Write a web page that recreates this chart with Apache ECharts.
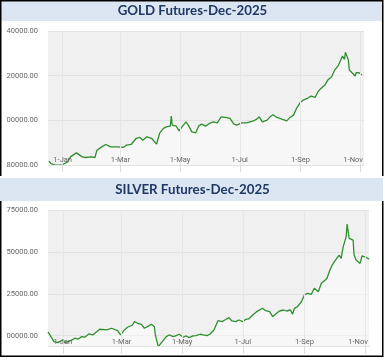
<!DOCTYPE html>
<html><head><meta charset="utf-8">
<script src="https://cdn.jsdelivr.net/npm/echarts@6/dist/echarts.min.js"></script>
<style>html,body{margin:0;padding:0;background:#fff;} #c{width:385px;height:362px;}</style>
</head><body><div id="c"></div>
<script>
const titles = ['GOLD Futures-Dec-2025', 'SILVER Futures-Dec-2025'];
const monthTicks = ['2025-01-01','2025-03-01','2025-05-01','2025-07-01','2025-09-01','2025-11-01'];
const monthNames = ['Jan','Feb','Mar','Apr','May','Jun','Jul','Aug','Sep','Oct','Nov','Dec'];
const goldYTicks = [80000, 100000, 120000, 140000];
const silverYTicks = [100000, 125000, 150000, 175000];

const goldDates = ['2024-12-18','2024-12-20','2024-12-24','2024-12-31','2025-01-03','2025-01-06','2025-01-09','2025-01-15','2025-01-17','2025-01-21','2025-01-24','2025-01-30','2025-02-03','2025-02-04','2025-02-05','2025-02-10','2025-02-12','2025-02-14','2025-02-19','2025-02-21','2025-02-26','2025-02-28','2025-03-04','2025-03-07','2025-03-12','2025-03-17','2025-03-21','2025-03-24','2025-03-28','2025-04-02','2025-04-07','2025-04-10','2025-04-14','2025-04-17','2025-04-21','2025-04-22','2025-04-23','2025-04-27','2025-04-30','2025-05-03','2025-05-07','2025-05-10','2025-05-13','2025-05-17','2025-05-20','2025-05-23','2025-05-27','2025-05-31','2025-06-04','2025-06-08','2025-06-12','2025-06-16','2025-06-21','2025-06-25','2025-06-28','2025-07-03','2025-07-08','2025-07-15','2025-07-18','2025-07-21','2025-07-24','2025-07-29','2025-08-01','2025-08-04','2025-08-08','2025-08-13','2025-08-18','2025-08-21','2025-08-25','2025-08-28','2025-09-01','2025-09-04','2025-09-09','2025-09-12','2025-09-16','2025-09-19','2025-09-22','2025-09-23','2025-09-26','2025-09-29','2025-10-03','2025-10-06','2025-10-08','2025-10-10','2025-10-14','2025-10-16','2025-10-17','2025-10-20','2025-10-21','2025-10-23','2025-10-27','2025-10-28','2025-10-31','2025-11-03'];
const goldValues = [81700,80670,79950,79950,80670,81390,83630,85430,85160,83630,83360,83630,83360,83630,86640,88120,88880,89190,88120,87400,88120,87400,87850,88880,89190,91880,92330,91120,92600,91880,89330,94120,96370,97080,97400,101880,97850,97400,95290,97080,99330,97400,94840,94390,97400,98300,97400,98610,99330,98880,101570,101300,100850,98300,97850,98880,98880,99770,100400,101570,99330,100090,101570,102470,101300,100540,99770,101120,102330,105330,108020,109060,110090,110850,110270,112780,114300,113540,115780,118020,119500,122510,121750,124750,128790,127310,130450,126990,122510,123270,119820,121300,121300,120270];

const silverDates = ['2024-12-17','2024-12-23','2024-12-27','2025-01-01','2025-01-03','2025-01-09','2025-01-13','2025-01-16','2025-01-20','2025-01-23','2025-01-27','2025-01-31','2025-02-04','2025-02-07','2025-02-14','2025-02-19','2025-02-21','2025-02-25','2025-02-28','2025-03-04','2025-03-07','2025-03-12','2025-03-14','2025-03-17','2025-03-21','2025-03-24','2025-03-27','2025-03-31','2025-04-03','2025-04-04','2025-04-07','2025-04-09','2025-04-11','2025-04-15','2025-04-18','2025-04-22','2025-04-25','2025-04-28','2025-05-02','2025-05-05','2025-05-08','2025-05-12','2025-05-15','2025-05-19','2025-05-22','2025-05-26','2025-05-29','2025-06-02','2025-06-04','2025-06-06','2025-06-10','2025-06-13','2025-06-17','2025-06-20','2025-06-24','2025-06-27','2025-07-01','2025-07-04','2025-07-07','2025-07-09','2025-07-11','2025-07-15','2025-07-21','2025-07-24','2025-07-28','2025-07-31','2025-08-04','2025-08-07','2025-08-11','2025-08-14','2025-08-18','2025-08-20','2025-08-22','2025-08-25','2025-08-29','2025-09-01','2025-09-04','2025-09-08','2025-09-11','2025-09-15','2025-09-18','2025-09-22','2025-09-24','2025-09-26','2025-09-29','2025-10-01','2025-10-03','2025-10-06','2025-10-08','2025-10-10','2025-10-13','2025-10-14','2025-10-16','2025-10-17','2025-10-20','2025-10-21','2025-10-23','2025-10-24','2025-10-27','2025-10-29','2025-10-31','2025-11-03','2025-11-05'];
const silverValues = [102200,96430,95830,97440,95830,97020,98450,97860,99400,99050,101010,100420,102380,103810,103400,104410,105360,102980,100420,103400,105000,106370,108340,107390,106790,104410,105360,106790,105360,100420,93450,94460,96430,99400,100420,99400,100000,100830,99050,99820,98810,99820,100000,100830,100420,100000,100830,103400,104410,108940,108340,109350,110720,108760,108340,109350,108340,109770,109950,109350,112330,114300,116320,114890,114300,111320,113340,114710,115310,114710,115310,112750,116320,117280,120250,124250,125260,124660,128240,126210,131210,133180,134550,138120,142120,144080,145090,148070,146110,153020,158970,166540,158020,157010,157010,148070,145090,146110,143130,147660,147060,146470,145690];

const toTs = s => new Date(s + 'T00:00:00').getTime();
const xTickTs = monthTicks.map(toTs);
const labelColor = '#666';
const fontFam = 'Roboto, "Liberation Sans", sans-serif';

function xLabel(v) {
  const d = new Date(v);
  const t = d.getDate() + '-' + monthNames[d.getMonth()];
  return d.getMonth() === 10 ? '{r|' + t + '}' : t;
}
function yLabel(v) {
  const r = v % 100000;
  return String(r).padStart(5, '0') + '.00';
}

function xAxisCfg(gi) {
  return {
    type: 'value', gridIndex: gi, z: 3,
    min: toTs('2024-12-17'), max: toTs('2025-11-05'),
    axisLine: { show: true, lineStyle: { color: '#e2e2e2' } },
    axisTick: { show: true, length: 7, customValues: xTickTs, lineStyle: { color: '#dcdcdc' } },
    axisLabel: {
      inside: true, margin: 1, customValues: xTickTs, formatter: xLabel, align: 'center',
      color: labelColor, fontSize: 7.5, fontFamily: fontFam, showMinLabel: true, showMaxLabel: true,
      rich: { r: { color: labelColor, fontSize: 7.5, fontFamily: fontFam, padding: [0, 14, 0, 0] } }
    },
    splitLine: { show: true, lineStyle: { color: '#e6e6e6', width: 1 } }
  };
}
function yAxisCfg(gi, min, max, ticks) {
  return {
    type: 'value', gridIndex: gi, min: min, max: max,
    axisLine: { show: false },
    axisTick: { show: false, customValues: ticks },
    axisLabel: { customValues: ticks, formatter: yLabel, color: labelColor, fontSize: 7.5, fontFamily: fontFam, margin: 10 },
    splitLine: { show: true, lineStyle: { color: '#e2e2e2', width: 1 } }
  };
}
function seriesCfg(i, dates, vals) {
  return {
    type: 'line', xAxisIndex: i, yAxisIndex: i, showSymbol: false, symbol: 'none', z: 2,
    data: dates.map((d, k) => [toTs(d), vals[k]]),
    lineStyle: { color: '#2f8f2f', width: 1.3 },
    areaStyle: { color: 'rgba(255,255,255,0.65)', origin: 'start' },
    animation: false
  };
}

const chart = echarts.init(document.getElementById('c'), null, { renderer: 'canvas' });
const border = { stroke: '#000', lineWidth: 1.5 };
const titleStyle = { color: '#1f3864', fontSize: 13.3, fontWeight: 'bold', fontFamily: 'Lato, "Noto Sans", sans-serif' };
chart.setOption({
  animation: false,
  backgroundColor: '#fff',
  title: [
    { text: titles[0], left: 'center', top: 4, padding: 0, textStyle: titleStyle },
    { text: titles[1], left: 'center', top: 183, padding: 0, textStyle: titleStyle }
  ],
  graphic: [
    { type: 'rect', z: -10, shape: { x: 0, y: 0, width: 383, height: 21 }, style: { fill: '#dce6f2' } },
    { type: 'rect', z: -10, shape: { x: 0, y: 178, width: 383, height: 23 }, style: { fill: '#dce6f2' } },
    { type: 'polyline', z: 100, shape: { points: [[0.75, 176], [0.75, 0.75], [382.75, 0.75], [382.75, 176]] }, style: Object.assign({ fill: null }, border) },
    { type: 'polyline', z: 100, shape: { points: [[0.75, 201], [0.75, 356.25], [382.75, 356.25], [382.75, 201]] }, style: Object.assign({ fill: null }, border) }
  ],
  grid: [
    { left: 48, top: 31, width: 316, height: 134, show: true, backgroundColor: '#f0f0f0', borderWidth: 0 },
    { left: 48, top: 210, width: 321, height: 136.7, show: true, backgroundColor: '#f0f0f0', borderWidth: 0 }
  ],
  xAxis: [xAxisCfg(0), xAxisCfg(1)],
  yAxis: [yAxisCfg(0, 80000, 140000, goldYTicks), yAxisCfg(1, 93400, 175000, silverYTicks)],
  series: [seriesCfg(0, goldDates, goldValues), seriesCfg(1, silverDates, silverValues)]
});
</script></body></html>
